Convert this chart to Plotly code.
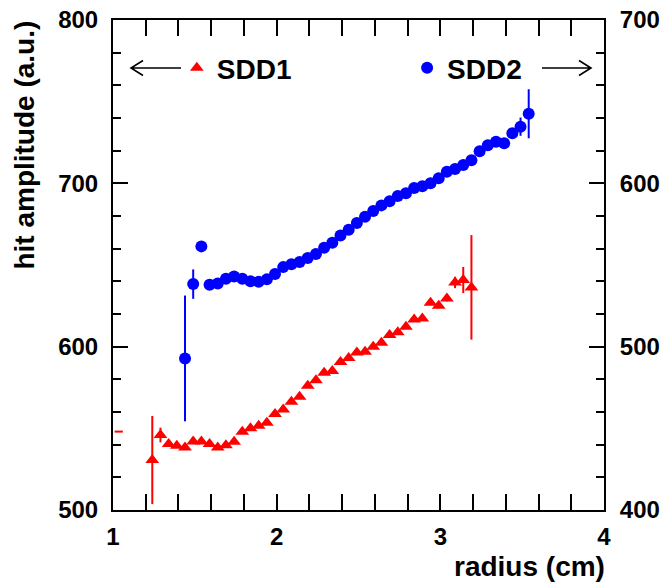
import plotly.graph_objects as go

# ---------------- data ----------------
radius_sdd1 = [1.24, 1.29, 1.34, 1.39, 1.44, 1.49, 1.54, 1.59, 1.64, 1.69,
               1.74, 1.79, 1.84, 1.89, 1.94, 1.99, 2.04, 2.09, 2.14, 2.19,
               2.24, 2.29, 2.34, 2.39, 2.44, 2.49, 2.54, 2.59, 2.64, 2.69,
               2.74, 2.79, 2.84, 2.89, 2.94, 2.99, 3.04, 3.09, 3.14, 3.19]
amp_sdd1 = [530.6, 545.9, 540.4, 539.3, 538.3, 542.0, 542.0, 540.4, 538.3, 539.7,
            541.8, 547.9, 550.0, 551.6, 553.4, 558.7, 561.6, 566.3, 569.3, 576.1,
            579.4, 584.0, 585.1, 590.6, 593.0, 596.5, 596.9, 599.9, 602.4, 607.1,
            608.8, 612.2, 616.7, 617.3, 626.9, 625.0, 629.5, 639.3, 640.8, 636.3]
err_sdd1 = [27.0, 4.5, 1.2, 1.2, 1.2, 1.2, 1.2, 1.2, 1.2, 1.2,
            1.2, 1.2, 1.2, 1.2, 1.2, 1.2, 1.2, 1.2, 1.2, 1.2,
            1.2, 1.2, 1.2, 1.2, 1.2, 1.2, 1.2, 1.2, 1.2, 1.2,
            1.2, 1.2, 1.2, 1.2, 1.2, 1.5, 1.8, 3.5, 8.0, 32.0]

radius_sdd2 = [1.44, 1.49, 1.54, 1.59, 1.64, 1.69, 1.74, 1.79, 1.84, 1.89,
               1.94, 1.99, 2.04, 2.09, 2.14, 2.19, 2.24, 2.29, 2.34, 2.39,
               2.44, 2.49, 2.54, 2.59, 2.64, 2.69, 2.74, 2.79, 2.84, 2.89,
               2.94, 2.99, 3.04, 3.09, 3.14, 3.19, 3.24, 3.29, 3.34, 3.39,
               3.44, 3.49, 3.54]
amp_sdd2 = [492.8, 538.3, 561.4, 537.9, 538.7, 541.6, 543.0, 541.6, 540.0, 539.8,
            541.2, 544.5, 548.7, 550.4, 551.8, 554.3, 556.7, 560.6, 563.6, 568.1,
            571.6, 575.7, 579.5, 583.0, 586.5, 589.0, 592.2, 593.9, 597.1, 598.2,
            600.0, 603.1, 607.1, 608.8, 611.2, 614.1, 619.6, 623.3, 625.5, 624.5,
            630.6, 634.7, 642.6]
err_sdd2 = [38.5, 9.0, 2.5, 1.2, 1.2, 1.2, 1.2, 1.2, 1.2, 1.2,
            1.2, 1.2, 1.2, 1.2, 1.2, 1.2, 1.2, 1.2, 1.2, 1.2,
            1.2, 1.2, 1.2, 1.2, 1.2, 1.2, 1.2, 1.2, 1.2, 1.2,
            1.2, 1.2, 1.2, 1.2, 1.2, 1.2, 1.2, 1.2, 1.5, 1.5,
            2.0, 5.6, 15.0]

# short red stray segment near the left axis
stub_x = [1.01, 1.06]
stub_y = [548, 548]

x_ticks = [1, 2, 3, 4]
y_left_ticks = [500, 600, 700, 800]
y_right_ticks = [400, 500, 600, 700]

RED = "#ff0000"
BLUE = "#0000ff"
FONT = "Liberation Sans"

fig = go.Figure()

fig.add_trace(go.Scatter(
    x=stub_x, y=stub_y, mode="lines",
    line=dict(color=RED, width=2), showlegend=False, hoverinfo="skip"))

fig.add_trace(go.Scatter(
    x=radius_sdd1, y=amp_sdd1, mode="markers", name="SDD1",
    marker=dict(symbol="triangle-up", size=12, color=RED),
    error_y=dict(type="data", array=err_sdd1, color=RED, thickness=2, width=0),
    legend="legend"))

fig.add_trace(go.Scatter(
    x=radius_sdd2, y=amp_sdd2, mode="markers", name="SDD2",
    marker=dict(symbol="circle", size=12, color=BLUE),
    error_y=dict(type="data", array=err_sdd2, color=BLUE, thickness=2, width=0),
    yaxis="y2", legend="legend2"))

tickfont = dict(family=FONT, size=24, color="black", weight="bold")

fig.update_layout(
    width=663, height=583,
    margin=dict(l=113, r=59, t=20, b=73, pad=0, autoexpand=False),
    paper_bgcolor="white", plot_bgcolor="white",
    font=dict(family=FONT, color="black", weight="bold"),
    xaxis=dict(
        range=[1, 4], tickvals=x_ticks, ticktext=[str(v) for v in x_ticks],
        ticks="inside", ticklen=16, tickwidth=2, tickcolor="black",
        minor=dict(ticks="inside", ticklen=8, tickwidth=2, dtick=0.2, tickcolor="black"),
        showline=True, linecolor="black", linewidth=2, mirror="allticks",
        showgrid=False, zeroline=False, tickfont=tickfont, ticklabelstandoff=4,
        automargin=False,
    ),
    yaxis=dict(
        range=[500, 800], tickvals=y_left_ticks, ticktext=[str(v) for v in y_left_ticks],
        ticks="inside", ticklen=15, tickwidth=2, tickcolor="black",
        minor=dict(ticks="inside", ticklen=8, tickwidth=2, dtick=20, tickcolor="black"),
        showline=True, linecolor="black", linewidth=2,
        showgrid=False, zeroline=False, tickfont=tickfont, ticklabelstandoff=8,
        automargin=False,
    ),
    yaxis2=dict(
        range=[400, 700], tickvals=y_right_ticks, ticktext=[str(v) for v in y_right_ticks],
        overlaying="y", side="right",
        ticks="inside", ticklen=15, tickwidth=2, tickcolor="black",
        minor=dict(ticks="inside", ticklen=8, tickwidth=2, dtick=20, tickcolor="black"),
        showline=True, linecolor="black", linewidth=2,
        showgrid=False, zeroline=False, tickfont=tickfont, ticklabelstandoff=9,
        automargin=False,
    ),
    legend=dict(
        x=0.130, y=0.902, xanchor="left", yanchor="middle",
        bgcolor="rgba(0,0,0,0)", borderwidth=0,
        font=dict(family=FONT, size=28, color="black", weight="bold"),
        itemwidth=30,
    ),
    legend2=dict(
        x=0.599, y=0.902, xanchor="left", yanchor="middle",
        bgcolor="rgba(0,0,0,0)", borderwidth=0,
        font=dict(family=FONT, size=28, color="black", weight="bold"),
        itemwidth=30,
    ),
)

# axis titles (ROOT style: aligned to the end of the axis)
fig.add_annotation(
    text="hit amplitude (a.u.)", xref="paper", yref="paper",
    x=-0.180, y=0.745, xanchor="center", yanchor="middle", textangle=-90,
    showarrow=False, font=dict(family=FONT, size=28, color="black", weight="bold"))
fig.add_annotation(
    text="radius (cm)", xref="paper", yref="paper",
    x=1.006, y=-0.116, xanchor="right", yanchor="middle",
    showarrow=False, font=dict(family=FONT, size=28, color="black", weight="bold"))

# open arrows of the legend
def px(X):
    return (X - 113) / 491.0

def py(Y):
    return (510 - Y) / 490.0

left_arrow = (f"M {px(181)} {py(68)} L {px(131)} {py(68)} "
              f"M {px(143)} {py(60.5)} L {px(131)} {py(68)} L {px(143)} {py(75.5)}")
right_arrow = (f"M {px(542)} {py(68)} L {px(591)} {py(68)} "
               f"M {px(579)} {py(60.5)} L {px(591)} {py(68)} L {px(579)} {py(75.5)}")
for p in (left_arrow, right_arrow):
    fig.add_shape(type="path", path=p, xref="paper", yref="paper",
                  line=dict(color="black", width=1.6))

fig.write_html("out.html")
